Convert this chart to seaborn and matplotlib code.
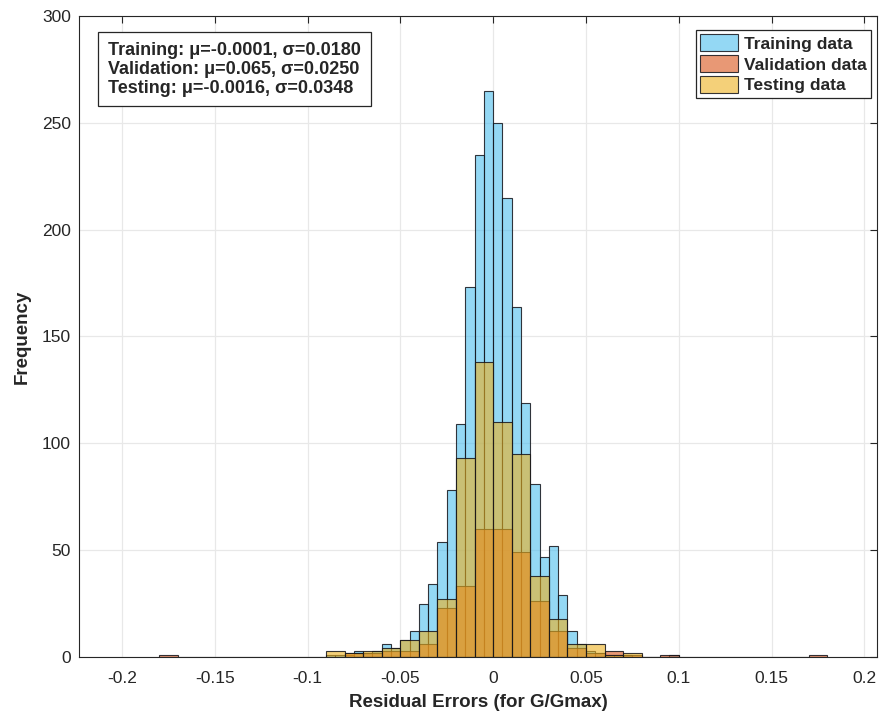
import numpy as np
import pandas as pd
import seaborn as sns

import matplotlib
matplotlib.use("Agg")  # headless mode (no GUI)

import matplotlib.pyplot as plt

# bin centres and counts
train_centers = [-0.0875, -0.0825, -0.0775, -0.0725, -0.0675, -0.0625, -0.0575, -0.0525,
                 -0.0475, -0.0425, -0.0375, -0.0325, -0.0275, -0.0225, -0.0175, -0.0125,
                 -0.0075, -0.0025, 0.0025, 0.0075, 0.0125, 0.0175, 0.0225, 0.0275,
                 0.0325, 0.0375, 0.0425, 0.0475, 0.0525, 0.0575, 0.0625, 0.0675,
                 0.0725, 0.0975]
train_counts = [1, 1, 1, 3, 2, 3, 6, 4,
                8, 12, 25, 34, 54, 78, 109, 173,
                235, 265, 250, 215, 164, 119, 81, 47,
                52, 29, 12, 6, 3, 2, 1, 1,
                1, 1]

valid_centers = [-0.175, -0.075, -0.065, -0.055, -0.045, -0.035, -0.025, -0.015,
                 -0.005, 0.005, 0.015, 0.025, 0.035, 0.045, 0.055, 0.065,
                 0.075, 0.095, 0.175]
valid_counts = [1, 2, 2, 3, 3, 6, 23, 33,
                60, 60, 49, 26, 12, 4, 2, 3,
                1, 1, 1]

test_centers = [-0.085, -0.075, -0.065, -0.055, -0.045, -0.035, -0.025, -0.015,
                -0.005, 0.005, 0.015, 0.025, 0.035, 0.045, 0.055, 0.065,
                0.075]
test_counts = [3, 2, 3, 4, 8, 12, 27, 93,
               138, 110, 95, 38, 18, 6, 6, 1,
               2]

series_names = ["Training data", "Validation data", "Testing data"]
stats_lines = [
    "Training: \u03bc=-0.0001, \u03c3=0.0180",
    "Validation: \u03bc=0.065, \u03c3=0.0250",
    "Testing: \u03bc=-0.0016, \u03c3=0.0348",
]


def make_plot():
    sns.set_style("whitegrid")
    plt.rcParams['font.family'] = ['Liberation Sans', 'DejaVu Sans']

    fig = plt.figure(figsize=(8.8, 7.2), dpi=100)
    ax = fig.add_axes([0.09, 0.0875, 0.907, 0.8903])

    colors = [(0.301, 0.745, 0.933), (0.85, 0.325, 0.098), (0.929, 0.694, 0.125)]
    datasets = [
        (train_centers, train_counts, 0.005),
        (valid_centers, valid_counts, 0.01),
        (test_centers, test_counts, 0.01),
    ]

    for (centers, counts, width), name, col in zip(datasets, series_names, colors):
        df = pd.DataFrame({"err": centers, "n": counts})
        lo = min(centers) - width / 2
        hi = max(centers) + width / 2
        n_before = len(ax.patches)
        sns.histplot(df, x="err", weights="n", binwidth=width, binrange=(lo, hi),
                     ax=ax, color=col, label=name, linewidth=0.8)
        # face semi-transparent, edges solid dark
        for p in ax.patches[n_before:]:
            p.set_alpha(None)
            p.set_facecolor((*col, 0.6))
            p.set_edgecolor((0.08, 0.08, 0.1, 0.85))
            p.set_linewidth(0.8)

    ax.set_xlim(-0.223, 0.207)
    ax.set_ylim(0, 300)
    ax.set_xticks(np.round(np.arange(-0.2, 0.2001, 0.05), 2))
    ax.set_xticklabels(["-0.2", "-0.15", "-0.1", "-0.05", "0", "0.05", "0.1", "0.15", "0.2"])
    ax.set_yticks(np.arange(0, 301, 50))

    ax.grid(True, color="#e8e8e8", linewidth=0.9)
    ax.set_axisbelow(True)
    for s in ax.spines.values():
        s.set_visible(True)
        s.set_color("#262626")
        s.set_linewidth(0.8)
    ax.tick_params(direction="in", length=5, width=0.8, top=True, right=True,
                   labelsize=12.5, colors="#262626")
    ax.tick_params(axis="x", pad=10)
    ax.tick_params(axis="y", pad=6)

    ax.set_xlabel("Residual Errors (for G/Gmax)", fontsize=13.5, fontweight="bold", labelpad=6)
    ax.set_ylabel("Frequency", fontsize=13.5, fontweight="bold", labelpad=8)

    ax.text(0.036, 0.96, "\n".join(stats_lines), transform=ax.transAxes,
            fontsize=13, fontweight="bold", va="top", ha="left", linespacing=1.15,
            bbox=dict(boxstyle="square,pad=0.55", facecolor="white",
                      edgecolor="#262626", linewidth=0.9))

    leg = ax.legend(loc="upper right", bbox_to_anchor=(0.996, 0.984), fancybox=False,
                    framealpha=1, edgecolor="#262626", handlelength=2.2,
                    handleheight=1.15, handletextpad=0.3, borderpad=0.25,
                    borderaxespad=0.2, labelspacing=0.2,
                    prop={"weight": "bold", "size": 12.5})
    leg.get_frame().set_linewidth(0.9)

    plt.savefig("out.png", dpi=100)
    print("Chart saved: out.png")


if __name__ == "__main__":
    make_plot()
